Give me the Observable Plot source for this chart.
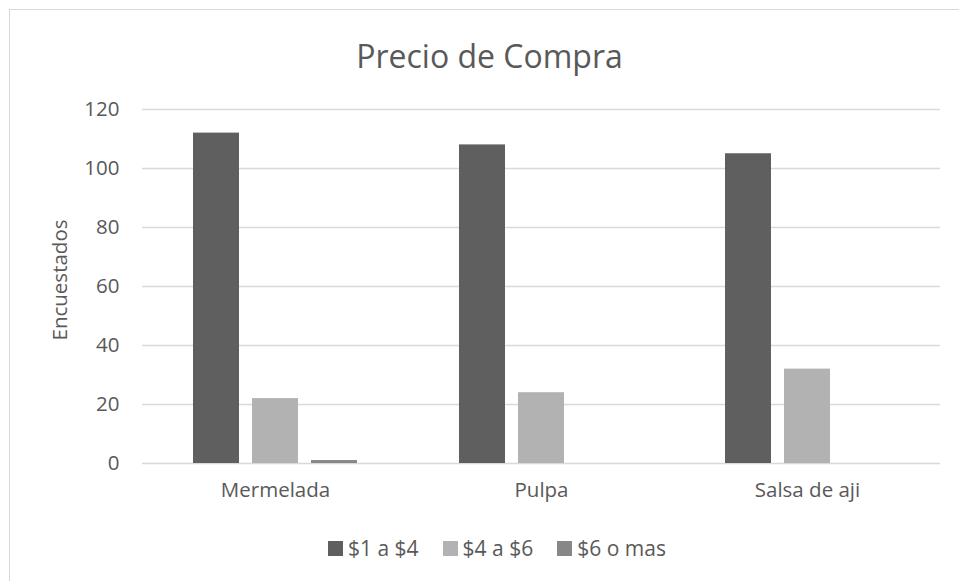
<!DOCTYPE html>
<html>
<head>
<meta charset="utf-8">
<script src="https://cdn.jsdelivr.net/npm/d3@7"></script>
<script src="https://cdn.jsdelivr.net/npm/@observablehq/plot@0.6"></script>
<style>
  html, body { margin: 0; padding: 0; background: #fff; }
  #wrap { position: relative; width: 959px; height: 581px; overflow: hidden; font-family: "Open Sans", sans-serif; color: #595959; }
  #frame { position: absolute; left: 9px; top: 9px; width: 1000px; height: 1000px; border-left: 1.5px solid #d9d9d9; border-top: 1.5px solid #d9d9d9; }
  #title { position: absolute; left: 0; width: 979px; top: 34px; text-align: center; font-size: 32px; line-height: 44px; color: #595959; }
  #chart { position: absolute; left: 0; top: 90px; }
  #ylabel { position: absolute; left: 59px; top: 280px; transform: translate(-50%, -50%) rotate(-90deg); font-size: 20.5px; white-space: nowrap; }
  #legend { position: absolute; left: 328px; top: 535px; display: flex; gap: 24px; font-size: 21px; line-height: 26px; }
  .item { display: flex; align-items: center; }
  .sw { width: 15px; height: 15px; margin-right: 5px; }
</style>
</head>
<body>
<div id="wrap">
  <div id="frame"></div>
  <div id="title">Precio de Compra</div>
  <div id="chart"></div>
  <div id="ylabel">Encuestados</div>
  <div id="legend"></div>
</div>
<script>
const categories = ["Mermelada", "Pulpa", "Salsa de aji"];
const series = ["$1 a $4", "$4 a $6", "$6 o mas"];
const s1a4 = [112, 108, 105];
const s4a6 = [22, 24, 32];
const s6mas = [1, 0, 0];
const colors = ["#5f5f5f", "#b2b2b2", "#878787"];
const yTicks = [0, 20, 40, 60, 80, 100, 120];

const valuesBySeries = [s1a4, s4a6, s6mas];
const data = [];
categories.forEach((c, i) => {
  series.forEach((s, j) => {
    data.push({cat: c, series: s, value: valuesBySeries[j][i]});
  });
});

const chart = Plot.plot({
  width: 959,
  height: 420,
  marginLeft: 142,
  marginRight: 19,
  marginTop: 19,
  marginBottom: 47,
  style: {fontFamily: "'Open Sans', sans-serif", fontSize: "20.5px", color: "#595959", background: "transparent"},
  fx: {domain: categories, padding: 0, axis: "bottom", label: null, tickSize: 0, tickPadding: 19},
  x: {domain: series, axis: null, paddingInner: 0.22, paddingOuter: 0.864},
  y: {domain: [0, 120], ticks: yTicks, label: null, tickSize: 0, tickPadding: 23},
  color: {domain: series, range: colors},
  marks: [
    Plot.gridY(yTicks, {stroke: "#d9d9d9", strokeOpacity: 1, strokeWidth: 1.3}),
    Plot.barY(data, {fx: "cat", x: "series", y: "value", fill: "series"})
  ]
});
document.getElementById("chart").appendChild(chart);

const legend = document.getElementById("legend");
series.forEach((s, j) => {
  const item = document.createElement("div");
  item.className = "item";
  const sw = document.createElement("div");
  sw.className = "sw";
  sw.style.background = colors[j];
  const t = document.createElement("span");
  t.textContent = s;
  item.appendChild(sw);
  item.appendChild(t);
  legend.appendChild(item);
});
</script>
</body>
</html>
